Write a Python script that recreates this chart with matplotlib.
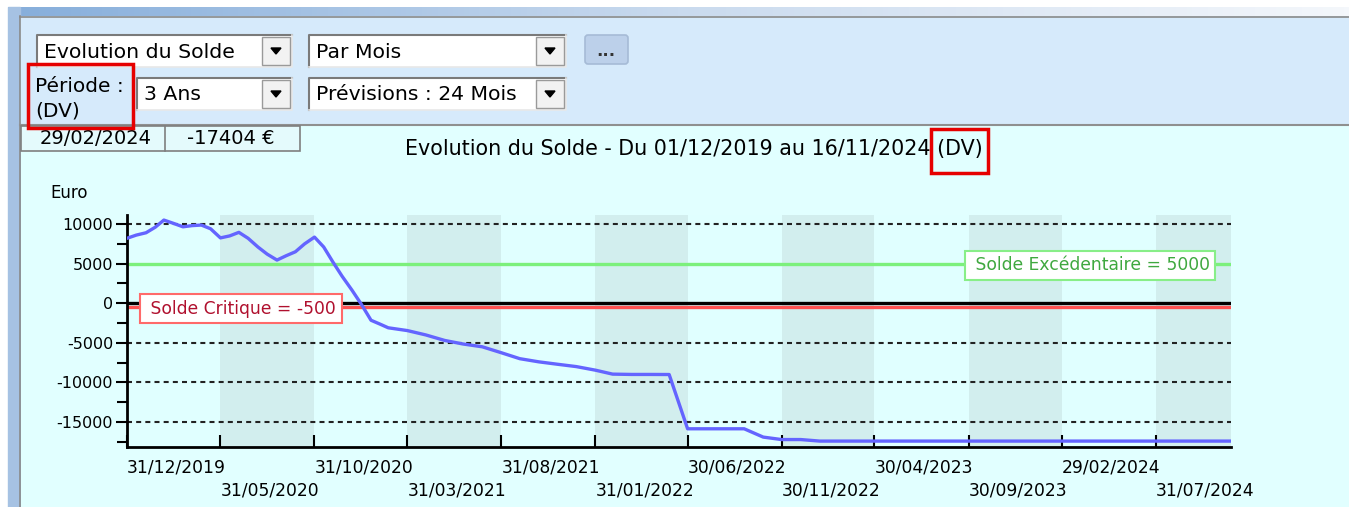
import numpy as np
import pandas as pd
import matplotlib
matplotlib.use("Agg")
import matplotlib.pyplot as plt
import matplotlib.dates as mdates
from matplotlib.patches import Rectangle, FancyBboxPatch, Polygon

plt.rcParams['font.family'] = ['DejaVu Sans']

dates = ['2019-12-31', '2020-01-15', '2020-01-31', '2020-02-15', '2020-02-29',
         '2020-03-15', '2020-03-31', '2020-04-15', '2020-04-30', '2020-05-15',
         '2020-05-31', '2020-06-15', '2020-06-30', '2020-07-15', '2020-07-31',
         '2020-08-15', '2020-08-31', '2020-09-15', '2020-09-30', '2020-10-15',
         '2020-10-31', '2020-11-15', '2020-11-30', '2020-12-15', '2020-12-31',
         '2021-01-15', '2021-01-31', '2021-02-15', '2021-02-28', '2021-03-31',
         '2021-04-30', '2021-05-31', '2021-06-30', '2021-07-31', '2021-08-31',
         '2021-09-30', '2021-10-31', '2021-11-30', '2021-12-31', '2022-01-31',
         '2022-02-28', '2022-03-31', '2022-04-30', '2022-05-31', '2022-06-30',
         '2022-07-31', '2022-08-31', '2022-09-30', '2022-10-31', '2022-11-30',
         '2022-12-31', '2023-01-31', '2023-06-30', '2023-12-31', '2024-02-29',
         '2024-06-30', '2024-11-30']
solde = [8200, 8600, 8900, 9600, 10500,
         10100, 9650, 9800, 9870, 9400,
         8250, 8500, 8950, 8200, 7100,
         6200, 5450, 6000, 6500, 7500,
         8350, 7100, 5200, 3400, 1650,
         -100, -2150, -2650, -3100, -3450,
         -4000, -4700, -5150, -5500, -6250,
         -7000, -7400, -7700, -8000, -8450,
         -8950, -8990, -8990, -9000, -15850,
         -15850, -15850, -15850, -16900, -17210,
         -17210, -17404, -17404, -17404, -17404,
         -17404, -17404]

tick_dates = ['2019-12-31', '2020-05-31', '2020-10-31', '2021-03-31', '2021-08-31',
              '2022-01-31', '2022-06-30', '2022-11-30', '2023-04-30', '2023-09-30',
              '2024-02-29', '2024-07-31']
tick_labels = ['31/12/2019', '31/05/2020', '31/10/2020', '31/03/2021', '31/08/2021',
               '31/01/2022', '30/06/2022', '30/11/2022', '30/04/2023', '30/09/2023',
               '29/02/2024', '31/07/2024']
y_ticks = [-15000, -10000, -5000, 0, 5000, 10000]
seuil_critique = -500
seuil_excedent = 5000

x = pd.to_datetime(dates)
xt = pd.to_datetime(tick_dates)
x_end = pd.Timestamp('2024-11-30')

W, H = 1349, 507
fig = plt.figure(figsize=(W / 100, H / 100), dpi=100)

# ---- fond / interface (coordonnees pixel) ----
bg = fig.add_axes([0, 0, 1, 1])
bg.set_xlim(0, W)
bg.set_ylim(H, 0)
bg.axis('off')

bg.add_patch(Rectangle((0, 0), W, H, color='white', zorder=0))
grad = np.linspace(0, 1, 256).reshape(1, -1)
cmap = matplotlib.colors.LinearSegmentedColormap.from_list('t', ['#86AEDB', '#C9DAEE', '#F4F7FB'])
bg.imshow(grad, extent=(8, W, 16, 7), aspect='auto', cmap=cmap, zorder=1)
bg.add_patch(Rectangle((8, 7), 12, H, color='#A6C2E3', zorder=1))
bg.add_patch(Rectangle((20, 16), W, 108, facecolor='#D6EAFB', edgecolor='none', zorder=1))
bg.plot([20, W], [16.5, 16.5], color='#8A8A8A', lw=1.2, zorder=2)
bg.plot([20, 20], [16, H], color='#8A8A8A', lw=1.2, zorder=2)
bg.add_patch(Rectangle((21, 125), W, H, facecolor='#E1FFFF', edgecolor='none', zorder=1))
bg.plot([20, W], [125, 125], color='#8F8F8F', lw=1.5, zorder=2)


def combo(x0, y0, w, h, txt):
    bg.add_patch(Rectangle((x0, y0), w, h, facecolor='white', edgecolor='none', zorder=3))
    bg.plot([x0, x0, x0 + w], [y0 + h, y0, y0], color='#7A7A7A', lw=1.5, zorder=4)
    bg.plot([x0, x0 + w, x0 + w], [y0 + h, y0 + h, y0], color='#E8E8E8', lw=1.2, zorder=4)
    bx = x0 + w - 30
    bg.add_patch(Rectangle((bx, y0 + 2), 28, h - 4, facecolor='#F2F2F2',
                           edgecolor='#9A9A9A', lw=1, zorder=4))
    cx, cy = bx + 14, y0 + h / 2
    bg.add_patch(Polygon([[cx - 5, cy - 3], [cx + 5, cy - 3], [cx, cy + 3]],
                         closed=True, color='black', zorder=5))
    bg.text(x0 + 7, y0 + h / 2 + 1, txt, fontsize=14.7, va='center', ha='left', zorder=5)


combo(37, 35, 255, 32, 'Evolution du Solde')
combo(309, 35, 257, 32, 'Par Mois')
combo(137, 78, 155, 32, '3 Ans')
combo(309, 78, 257, 32, 'Prévisions : 24 Mois')

bg.add_patch(FancyBboxPatch((585, 35), 43, 29, boxstyle='round,pad=0,rounding_size=3',
                            facecolor='#BCD0EA', edgecolor='#A6BBD6', lw=1.2, zorder=3))
bg.text(606, 51, '...', fontsize=12, ha='center', va='center', color='#333333',
        fontweight='bold', zorder=4)

bg.text(35, 87, 'Période :', fontsize=14.5, va='center', ha='left', zorder=4)
bg.text(35, 111, '(DV)', fontsize=14.5, va='center', ha='left', zorder=4)
bg.add_patch(Rectangle((28, 64), 105, 64, facecolor='none', edgecolor='#E60000', lw=2.5, zorder=6))

# petite zone date / solde
bg.add_patch(Rectangle((21, 126), 279, 25, facecolor='#E4FAFC', edgecolor='#7F7F7F', lw=1.2, zorder=3))
bg.plot([165, 165], [126, 151], color='#7F7F7F', lw=1.2, zorder=4)
bg.text(96, 139, '29/02/2024', fontsize=14, ha='center', va='center', zorder=4)
bg.text(231, 139, '-17404 €', fontsize=14, ha='center', va='center', zorder=4)

bg.text(694, 149, 'Evolution du Solde - Du 01/12/2019 au 16/11/2024 (DV)', fontsize=14.9,
        ha='center', va='center', zorder=4)
bg.add_patch(Rectangle((931, 129), 57, 44, facecolor='none', edgecolor='#E60000', lw=2.5, zorder=6))
bg.text(50, 193, 'Euro', fontsize=12, ha='left', va='center', zorder=4)

# ---- graphique ----
ax = fig.add_axes([127 / W, (H - 447) / H, (1231 - 127) / W, (447 - 215) / H])
ax.set_facecolor('#E0FFFF')
ax.set_xlim(xt[0], x_end)
ax.set_ylim(-18150, 11140)

edges = list(xt) + [x_end]
for i in range(1, len(edges) - 1, 2):
    ax.axvspan(edges[i], edges[i + 1], color='#D2EEEE', lw=0, zorder=0)

for v in [10000, -5000, -10000, -15000]:
    ax.axhline(v, color='#222222', lw=1.5, ls=(0, (2.4, 2.0)), zorder=1)
ax.axhline(seuil_excedent, color='#7CF07C', lw=2.4, zorder=2)
ax.axhline(0, color='black', lw=2.4, zorder=2)
ax.axhline(seuil_critique, color='#FF5252', lw=2.4, zorder=2)

ax.plot(x, solde, color='#6464FF', lw=2.4, zorder=3)

ax.text(0.103, -680, ' Solde Critique = -500', transform=ax.get_yaxis_transform(),
        fontsize=12.3, color='#B0102E', ha='center', va='center', zorder=5,
        bbox=dict(boxstyle='square,pad=0.32', facecolor='white', edgecolor='#FF6A6A', lw=1.5))
ax.text(0.981, 4770, ' Solde Excédentaire = 5000', transform=ax.get_yaxis_transform(),
        fontsize=12.3, color='#3FA83F', ha='right', va='center', zorder=5,
        bbox=dict(boxstyle='square,pad=0.32', facecolor='white', edgecolor='#88EE88', lw=1.5))

ax.set_yticks(y_ticks)
ax.set_yticklabels([str(v) for v in y_ticks], fontsize=11.5)
ax.set_yticks(np.arange(-17500, 11000, 5000), minor=True)
ax.tick_params(axis='y', which='major', direction='out', length=8, width=1.5, pad=2)
ax.tick_params(axis='y', which='minor', direction='out', length=7, width=1.5)

ax.set_xticks(xt)
ax.set_xticklabels([t if i % 2 == 0 else '\n' + t for i, t in enumerate(tick_labels)],
                   fontsize=12.3, ha='left', linespacing=1.4)
ax.tick_params(axis='x', direction='in', length=9, width=1.5, pad=8)

for s in ['top', 'right']:
    ax.spines[s].set_visible(False)
ax.spines['left'].set_linewidth(2)
ax.spines['bottom'].set_linewidth(2)

fig.savefig('out.png', dpi=100)
